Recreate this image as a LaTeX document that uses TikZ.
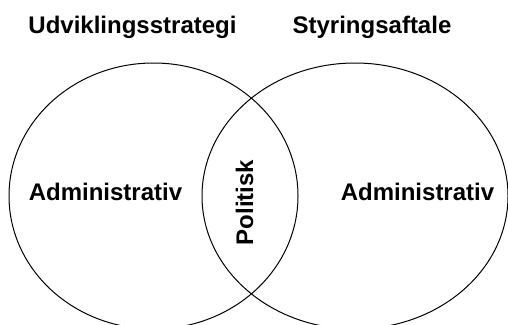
\documentclass[tikz,border=0pt]{standalone}
\usepackage{fontspec}
\setmainfont{Liberation Sans}
\tikzset{venntext/.style={font=\bfseries\fontsize{24}{28}\selectfont,inner sep=0pt,anchor=base}}
\begin{document}
\begin{tikzpicture}[x=1pt,y=-1pt]
        \useasboundingbox (0,0) rectangle (508,324);
        \clip (0,0) rectangle (508,324);
        \draw[line width=1pt] (153.5,196) ellipse [x radius=144.5pt, y radius=133pt]; 
        \draw[line width=1pt] (355,196) ellipse [x radius=153pt, y radius=133pt];
        \node[venntext] (udv) at (132.5,33) {Udviklingsstrategi};
        \node[venntext] (sty) at (372,33) {Styringsaftale};
        \node[venntext] (admleft) at (105.5,200) {Administrativ};
        \node[venntext] (admright) at (417.5,200) {Administrativ};
        \node[venntext,rotate=90] (pol) at (253,202.5) {Politisk};
    \end{tikzpicture}
\end{document}
